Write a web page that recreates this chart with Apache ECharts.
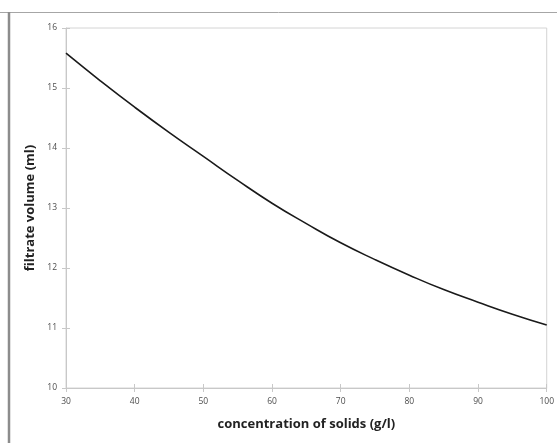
<!DOCTYPE html>
<html>
<head>
<meta charset="UTF-8">
<title>filtrate volume</title>
<script src="https://cdn.jsdelivr.net/npm/echarts@6/dist/echarts.min.js"></script>
<style>
  html, body { margin: 0; padding: 0; background: #fff; }
  #chart { width: 557px; height: 443px; }
</style>
</head>
<body>
<div id="chart"></div>
<script type="text/javascript">
// concentration of solids (g/l)
var conc = [30, 35, 40, 45, 50, 55, 60, 65, 70, 75, 80, 85, 90, 95, 100];
// filtrate volume (ml)
var volume = [15.58, 15.12, 14.68, 14.26, 13.86, 13.46, 13.08, 12.74, 12.42, 12.14, 11.88, 11.64, 11.43, 11.23, 11.05];

var xTicks = [30, 40, 50, 60, 70, 80, 90, 100];
var yTicks = [10, 11, 12, 13, 14, 15, 16];

var chart = echarts.init(document.getElementById('chart'));

var points = [];
for (var i = 0; i < conc.length; i++) {
    points.push([conc[i], volume[i]]);
}

var axisColor = '#c8c8c8';
var labelStyle = { fontFamily: 'Open Sans', fontSize: 8.5, color: '#4d4d4d' };
var nameStyle = { fontFamily: 'Open Sans', fontSize: 13, fontWeight: 'bold', color: '#222' };

var option = {
    animation: false,
    grid: {
        left: 66, top: 28, right: 10, bottom: 55,
        show: true, borderColor: '#d4d4d4', borderWidth: 1
    },
    graphic: [
        { type: 'line', shape: { x1: 0, y1: 12.5, x2: 557, y2: 12.5 }, style: { stroke: '#a6a6a6', lineWidth: 1 } },
        { type: 'line', shape: { x1: 9, y1: 12, x2: 9, y2: 443 }, style: { stroke: '#8c8c8c', lineWidth: 2.5 } }
    ],
    xAxis: [{
        type: 'value',
        min: xTicks[0], max: xTicks[xTicks.length - 1], interval: 10,
        name: 'concentration of solids (g/l)',
        nameLocation: 'middle', nameGap: 30,
        nameTextStyle: nameStyle,
        axisLine: { lineStyle: { color: axisColor } },
        axisTick: { show: true, length: 4, lineStyle: { color: axisColor } },
        axisLabel: Object.assign({ margin: 9 }, labelStyle),
        splitLine: { show: false }
    }, {
        type: 'value', position: 'bottom',
        min: xTicks[0], max: xTicks[xTicks.length - 1], interval: 10,
        axisLine: { show: false },
        axisTick: { show: true, inside: true, length: 4, lineStyle: { color: axisColor } },
        axisLabel: { show: false },
        splitLine: { show: false }
    }],
    yAxis: [{
        type: 'value',
        min: yTicks[0], max: yTicks[yTicks.length - 1], interval: 1,
        name: 'filtrate volume (ml)',
        nameLocation: 'middle', nameGap: 26,
        nameTextStyle: nameStyle,
        axisLine: { show: true, lineStyle: { color: axisColor } },
        axisTick: { show: true, length: 4, lineStyle: { color: axisColor } },
        axisLabel: Object.assign({ margin: 9 }, labelStyle),
        splitLine: { show: false }
    }, {
        type: 'value', position: 'left',
        min: yTicks[0], max: yTicks[yTicks.length - 1], interval: 1,
        axisLine: { show: false },
        axisTick: { show: true, inside: true, length: 4, lineStyle: { color: axisColor } },
        axisLabel: { show: false },
        splitLine: { show: false }
    }],
    series: [{
        name: 'filtrate volume',
        type: 'line',
        data: points,
        smooth: true,
        showSymbol: false,
        lineStyle: { color: '#1a1a1a', width: 1.6 }
    }]
};
chart.setOption(option);
</script>
</body>
</html>
